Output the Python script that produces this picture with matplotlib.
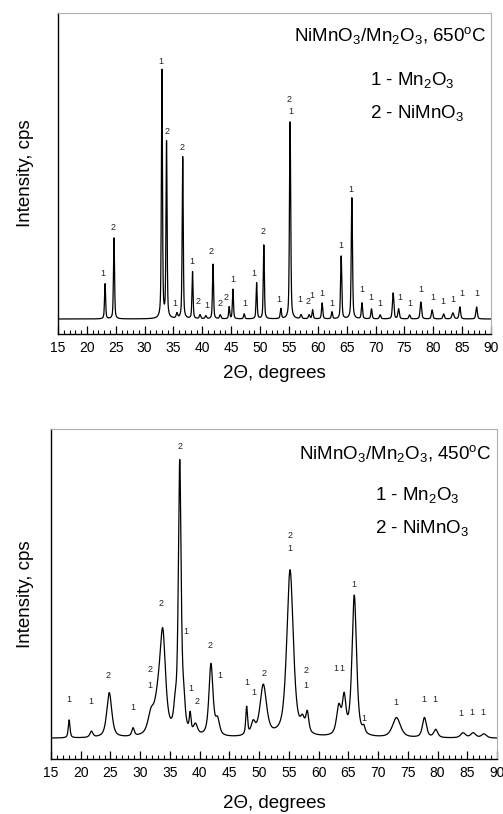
import numpy as np
import matplotlib
matplotlib.use("Agg")
import matplotlib.pyplot as plt
from matplotlib.ticker import MultipleLocator

plt.rcParams["font.family"] = ["Liberation Sans", "DejaVu Sans"]
plt.rcParams["mathtext.fontset"] = "custom"
plt.rcParams["mathtext.rm"] = "Liberation Sans"
plt.rcParams["mathtext.it"] = "Liberation Sans"

# ---- 650 °C pattern: peak positions (2θ), heights (cps), widths (FWHM, deg)
pos_650 = [23.15, 24.7, 33.0, 33.8, 35.6, 36.6, 38.3, 39.6, 40.6, 41.85,
           43.1, 44.65, 45.3, 47.25, 49.4, 50.65, 53.6, 55.2, 57.1, 58.5,
           59.1, 60.75, 62.45, 64.05, 65.9, 67.65, 69.3, 70.8, 73.05, 74.0,
           75.9, 77.85, 79.8, 81.8, 83.4, 84.6, 87.5]
hgt_650 = [177, 405, 1240, 880, 25, 810, 235, 20, 15, 275,
           20, 60, 148, 25, 180, 372, 50, 985, 20, 20,
           45, 80, 35, 315, 605, 80, 50, 20, 130, 50,
           20, 85, 45, 25, 30, 60, 60]
fwhm_650 = [0.22, 0.22, 0.22, 0.22, 0.3, 0.22, 0.22, 0.3, 0.3, 0.22,
            0.3, 0.22, 0.22, 0.25, 0.22, 0.22, 0.25, 0.25, 0.3, 0.3,
            0.25, 0.25, 0.25, 0.25, 0.25, 0.25, 0.25, 0.3, 0.3, 0.3,
            0.3, 0.3, 0.3, 0.3, 0.4, 0.3, 0.3]
base_650 = 75

# phase labels: (2θ, height, text)
lab_650_x = [22.85, 24.58, 32.79, 33.83, 36.53, 35.27, 38.16, 39.30, 40.76, 41.45,
             43.06, 44.10, 45.26, 47.39, 49.00, 50.56, 53.33, 55.07, 55.31, 56.92,
             58.36, 59.05, 60.68, 62.41, 63.97, 65.70, 67.71, 69.22, 70.78, 74.24,
             75.97, 77.83, 79.84, 81.74, 83.37, 84.93, 87.63]
lab_650_y = [300, 530, 1360, 1010, 935, 150, 365, 160, 145, 410,
             150, 185, 275, 150, 305, 510, 175, 1170, 1115, 175,
             160, 190, 205, 155, 440, 725, 220, 180, 150, 180,
             150, 225, 185, 165, 175, 200, 205]
lab_650_t = ["1", "2", "1", "2", "2", "1", "1", "2", "1", "2",
             "2", "2", "1", "1", "1", "2", "1", "2", "1", "1",
             "2", "1", "1", "1", "1", "1", "1", "1", "1", "1",
             "1", "1", "1", "1", "1", "1", "1"]

# ---- 450 °C pattern
pos_450 = [18.05, 21.8, 24.8, 28.8, 31.8, 33.0, 33.8, 35.9, 36.65, 37.3,
           38.4, 39.3, 41.9, 43.0, 47.9, 49.0, 50.7, 55.2, 57.3, 58.1,
           63.4, 64.3, 66.0, 67.6, 73.1, 77.8, 79.7, 84.3, 86.0, 87.8]
hgt_450 = [54, 18, 135, 24, 54, 90, 279, 60, 810, 75,
           54, 30, 216, 45, 84, 36, 153, 501, 36, 60,
           84, 105, 423, 18, 60, 60, 24, 15, 15, 12]
fwhm_450 = [0.35, 0.6, 1.0, 0.5, 1.2, 1.5, 1.1, 0.6, 0.55, 0.6,
            0.35, 0.8, 0.8, 0.8, 0.35, 0.8, 1.3, 1.3, 0.8, 0.6,
            0.9, 0.7, 0.9, 0.5, 1.6, 0.8, 0.8, 1.0, 1.0, 1.0]
base_450 = 62

lab_450_x = [18.08, 21.73, 24.53, 28.84, 31.65, 31.65, 33.50, 36.69, 37.65, 38.49,
             39.60, 41.74, 43.42, 47.91, 49.14, 50.82, 55.19, 55.19, 57.88, 57.88,
             62.92, 63.98, 66.0, 67.63, 72.96, 77.77, 79.57, 83.89, 85.74, 87.59]
lab_450_y = [177, 171, 250, 154, 270, 222, 465, 937, 381, 212,
             171, 339, 249, 230, 199, 257, 672, 632, 265, 219,
             272, 272, 524, 122, 170, 180, 177, 135, 140, 140]
lab_450_t = ["1", "1", "2", "1", "2", "1", "2", "2", "1", "1",
             "2", "2", "1", "1", "1", "2", "2", "1", "2", "1",
             "1", "1", "1", "1", "1", "1", "1", "1", "1", "1"]

x_ticks = [15, 20, 25, 30, 35, 40, 45, 50, 55, 60, 65, 70, 75, 80, 85, 90]


def pattern(tt, centers, heights, widths, base, eta):
    y = np.full_like(tt, float(base))
    for c, h, w in zip(centers, heights, widths):
        d = (tt - c) / w
        g = np.exp(-4 * np.log(2) * d ** 2)
        l = 1.0 / (1.0 + 4 * d ** 2)
        y += h * (eta * l + (1 - eta) * g)
    return y


tt = np.linspace(15, 90, 3751)

W, H = 503, 814
fig = plt.figure(figsize=(W / 100, H / 100), dpi=100)

panels = [
    dict(rect=[58, 13, 491, 334], pos=pos_650, hgt=hgt_650, fw=fwhm_650, base=base_650,
         eta=0.5, ymax=1605, lx=lab_650_x, ly=lab_650_y, lt=lab_650_t,
         title=r"NiMnO$\mathregular{_3}$/Mn$\mathregular{_2}$O$\mathregular{_3}$, 650$\mathregular{^o}$C",
         tx=487, ty=36, leg_x=370, leg_y=[80, 113], xl_y=373),
    dict(rect=[51, 429, 497, 759], pos=pos_450, hgt=hgt_450, fw=fwhm_450, base=base_450,
         eta=0.65, ymax=990, lx=lab_450_x, ly=lab_450_y, lt=lab_450_t,
         title=r"NiMnO$\mathregular{_3}$/Mn$\mathregular{_2}$O$\mathregular{_3}$, 450$\mathregular{^o}$C",
         tx=492, ty=453, leg_x=375, leg_y=[495, 528], xl_y=803),
]

for p in panels:
    x0, y0, x1, y1 = p["rect"]
    ax = fig.add_axes([x0 / W, 1 - y1 / H, (x1 - x0) / W, (y1 - y0) / H])
    y = pattern(tt, p["pos"], p["hgt"], p["fw"], p["base"], p["eta"])
    ax.plot(tt, y, color="black", lw=0.9)
    ax.set_xlim(15, 90)
    ax.set_ylim(0, p["ymax"])
    ax.set_xticks(x_ticks)
    ax.xaxis.set_minor_locator(MultipleLocator(1))
    ax.tick_params(axis="x", which="major", direction="in", length=6, width=0.9,
                   labelsize=10, pad=5, top=False)
    ax.tick_params(axis="x", which="minor", direction="in", length=3, width=0.8, top=False)
    ax.set_yticks([])
    for s in ("top", "right"):
        ax.spines[s].set_color("#b0b0b0")
        ax.spines[s].set_linewidth(0.8)
    for s in ("left", "bottom"):
        ax.spines[s].set_color("black")
        ax.spines[s].set_linewidth(1.0)

    for lx, ly, lt in zip(p["lx"], p["ly"], p["lt"]):
        ax.text(lx, ly, lt, fontsize=6.5, ha="center", va="center", color="#222222")

    fig.text(p["tx"] / W, 1 - p["ty"] / H, p["title"], fontsize=13.5,
             ha="right", va="center")
    fig.text(p["leg_x"] / W, 1 - p["leg_y"][0] / H,
             r"1 - Mn$\mathregular{_2}$O$\mathregular{_3}$", fontsize=13.5, ha="left", va="center")
    fig.text(p["leg_x"] / W, 1 - p["leg_y"][1] / H,
             r"2 - NiMnO$\mathregular{_3}$", fontsize=13.5, ha="left", va="center")

    fig.text((x0 + x1) / 2 / W, 1 - p["xl_y"] / H, "2\u0398, degrees", fontsize=13.5,
             ha="center", va="center")
    fig.text(25 / W, 1 - (y0 + y1) / 2 / H, "Intensity, cps", fontsize=13.5,
             ha="center", va="center", rotation=90)

fig.savefig("out.png", dpi=100)
